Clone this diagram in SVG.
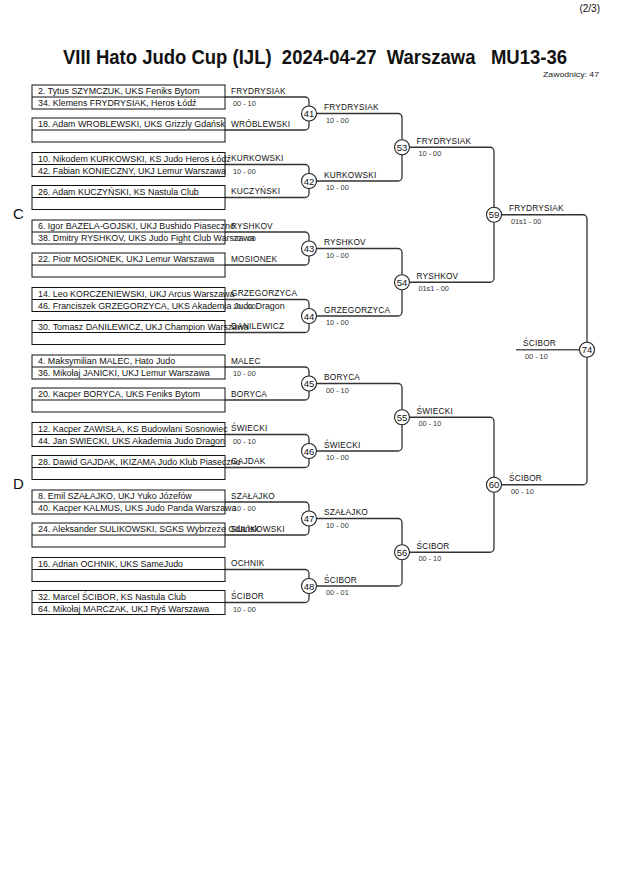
<svg xmlns="http://www.w3.org/2000/svg" width="630" height="891" viewBox="0 0 630 891">
<style>
  .bg{fill:#ffffff}
  .box{fill:none;stroke:#111;stroke-width:1}
  .div{stroke:#111;stroke-width:1}
  .ent{font-family:"Liberation Sans",Arial,sans-serif;font-size:8.9px;fill:#111}
  .lbl{font-family:"Liberation Sans",Arial,sans-serif;font-size:8.3px;fill:#111;letter-spacing:0.2px}
  .sc{font-family:"Liberation Sans",Arial,sans-serif;font-size:7.3px;fill:#333}
  .con{fill:none;stroke:#333;stroke-width:1.3}
  .fin{fill:none;stroke:#555;stroke-width:1.6}
  .cir{fill:#fff;stroke:#222;stroke-width:1.1}
  .num{font-family:"Liberation Sans",Arial,sans-serif;font-size:9.5px;fill:#111;text-anchor:middle}
  .grp{font-family:"Liberation Sans",Arial,sans-serif;font-size:15px;fill:#111}
</style>
<rect class="bg" x="0" y="0" width="630" height="891"/>
<text x="600" y="12" font-family="Liberation Sans, Arial, sans-serif" font-size="10" text-anchor="end" fill="#111">(2/3)</text>
<text x="63" y="64" font-family="Liberation Sans, Arial, sans-serif" font-size="19.5" font-weight="bold" fill="#111" textLength="504" lengthAdjust="spacingAndGlyphs" xml:space="preserve">VIII Hato Judo Cup (IJL)  2024-04-27  Warszawa   MU13-36</text>
<text x="543" y="77" font-family="Liberation Sans, Arial, sans-serif" font-size="8" fill="#222" textLength="56" lengthAdjust="spacingAndGlyphs">Zawodnicy: 47</text>
<text class="grp" x="13" y="219">C</text>
<text class="grp" x="13" y="489">D</text>

<g id="connectors">
  <path class="con" d="M225,97 H305 A4,4 0 0 1 309,101 V106 M225,130 H305 A4,4 0 0 0 309,126 V121"/>
  <path class="con" d="M225,164.5 H305 A4,4 0 0 1 309,168.5 V173.5 M225,197.5 H305 A4,4 0 0 0 309,193.5 V188.5"/>
  <path class="con" d="M225,232 H305 A4,4 0 0 1 309,236 V241 M225,265 H305 A4,4 0 0 0 309,261 V256"/>
  <path class="con" d="M225,299.5 H305 A4,4 0 0 1 309,303.5 V308.5 M225,332.5 H305 A4,4 0 0 0 309,328.5 V323.5"/>
  <path class="con" d="M225,367 H305 A4,4 0 0 1 309,371 V376 M225,400 H305 A4,4 0 0 0 309,396 V391"/>
  <path class="con" d="M225,434.5 H305 A4,4 0 0 1 309,438.5 V443.5 M225,467.5 H305 A4,4 0 0 0 309,463.5 V458.5"/>
  <path class="con" d="M225,502 H305 A4,4 0 0 1 309,506 V511 M225,535 H305 A4,4 0 0 0 309,531 V526"/>
  <path class="con" d="M225,569.5 H305 A4,4 0 0 1 309,573.5 V578.5 M225,602.5 H305 A4,4 0 0 0 309,598.5 V593.5"/>
  <path class="con" d="M317,113.5 H398 A4,4 0 0 1 402,117.5 V139.75 M317,181 H398 A4,4 0 0 0 402,177 V154.75"/>
  <path class="con" d="M317,248.5 H398 A4,4 0 0 1 402,252.5 V274.75 M317,316 H398 A4,4 0 0 0 402,312 V289.75"/>
  <path class="con" d="M317,383.5 H398 A4,4 0 0 1 402,387.5 V409.75 M317,451 H398 A4,4 0 0 0 402,447 V424.75"/>
  <path class="con" d="M317,518.5 H398 A4,4 0 0 1 402,522.5 V544.75 M317,586 H398 A4,4 0 0 0 402,582 V559.75"/>
  <path class="con" d="M410,147.25 H490 A4,4 0 0 1 494,151.25 V207.25 M410,282.25 H490 A4,4 0 0 0 494,278.25 V222.25"/>
  <path class="con" d="M410,417.25 H490 A4,4 0 0 1 494,421.25 V477.25 M410,552.25 H490 A4,4 0 0 0 494,548.25 V492.25"/>
  <path class="con" d="M502,214.75 H583 A4,4 0 0 1 587,218.75 V342.25 M502,484.75 H583 A4,4 0 0 0 587,480.75 V357.25"/>
  <path class="fin" d="M516,349.75 H579.5"/>
</g>

<g id="entries-41">
  <rect class="box" x="32" y="85" width="193" height="24"/><line class="div" x1="32" y1="97" x2="225" y2="97"/>
  <rect class="box" x="32" y="118" width="193" height="24"/><line class="div" x1="32" y1="130" x2="225" y2="130"/>
  <text class="ent" x="38" y="94">2. Tytus SZYMCZUK, UKS Feniks Bytom</text>
  <text class="ent" x="38" y="106">34. Klemens FRYDRYSIAK, Heros Łódź</text>
  <text class="ent" x="38" y="127">18. Adam WROBLEWSKI, UKS Grizzly Gdańsk</text>
  <text class="lbl" x="231" y="93.5">FRYDRYSIAK</text>
  <text class="sc" x="233" y="106">00 - 10</text>
  <text class="lbl" x="231" y="126.5">WRÓBLEWSKI</text>
</g>
<g id="entries-42">
  <rect class="box" x="32" y="152.5" width="193" height="24"/><line class="div" x1="32" y1="164.5" x2="225" y2="164.5"/>
  <rect class="box" x="32" y="185.5" width="193" height="24"/><line class="div" x1="32" y1="197.5" x2="225" y2="197.5"/>
  <text class="ent" x="38" y="161.5">10. Nikodem KURKOWSKI, KS Judo Heros Łódź</text>
  <text class="ent" x="38" y="173.5">42. Fabian KONIECZNY, UKJ Lemur Warszawa</text>
  <text class="ent" x="38" y="194.5">26. Adam KUCZYŃSKI, KS Nastula Club</text>
  <text class="lbl" x="231" y="161">KURKOWSKI</text>
  <text class="sc" x="233" y="173.5">10 - 00</text>
  <text class="lbl" x="231" y="194">KUCZYŃSKI</text>
</g>
<g id="entries-43">
  <rect class="box" x="32" y="220" width="193" height="24"/><line class="div" x1="32" y1="232" x2="225" y2="232"/>
  <rect class="box" x="32" y="253" width="193" height="24"/><line class="div" x1="32" y1="265" x2="225" y2="265"/>
  <text class="ent" x="38" y="229">6. Igor BAZELA-GOJSKI, UKJ Bushido Piaseczno</text>
  <text class="ent" x="38" y="241">38. Dmitry RYSHKOV, UKS Judo Fight Club Warszawa</text>
  <text class="ent" x="38" y="262">22. Piotr MOSIONEK, UKJ Lemur Warszawa</text>
  <text class="lbl" x="231" y="228.5">RYSHKOV</text>
  <text class="sc" x="233" y="241">10 - 00</text>
  <text class="lbl" x="231" y="261.5">MOSIONEK</text>
</g>
<g id="entries-44">
  <rect class="box" x="32" y="287.5" width="193" height="24"/><line class="div" x1="32" y1="299.5" x2="225" y2="299.5"/>
  <rect class="box" x="32" y="320.5" width="193" height="24"/><line class="div" x1="32" y1="332.5" x2="225" y2="332.5"/>
  <text class="ent" x="38" y="296.5">14. Leo KORCZENIEWSKI, UKJ Arcus Warszawa</text>
  <text class="ent" x="38" y="308.5">46. Franciszek GRZEGORZYCA, UKS Akademia Judo Dragon</text>
  <text class="ent" x="38" y="329.5">30. Tomasz DANILEWICZ, UKJ Champion Warszawa</text>
  <text class="lbl" x="231" y="296">GRZEGORZYCA</text>
  <text class="sc" x="233" y="308.5">10 - 00</text>
  <text class="lbl" x="231" y="329">DANILEWICZ</text>
</g>
<g id="entries-45">
  <rect class="box" x="32" y="355" width="193" height="24"/><line class="div" x1="32" y1="367" x2="225" y2="367"/>
  <rect class="box" x="32" y="388" width="193" height="24"/><line class="div" x1="32" y1="400" x2="225" y2="400"/>
  <text class="ent" x="38" y="364">4. Maksymilian MALEC, Hato Judo</text>
  <text class="ent" x="38" y="376">36. Mikołaj JANICKI, UKJ Lemur Warszawa</text>
  <text class="ent" x="38" y="397">20. Kacper BORYCA, UKS Feniks Bytom</text>
  <text class="lbl" x="231" y="363.5">MALEC</text>
  <text class="sc" x="233" y="376">10 - 00</text>
  <text class="lbl" x="231" y="396.5">BORYCA</text>
</g>
<g id="entries-46">
  <rect class="box" x="32" y="422.5" width="193" height="24"/><line class="div" x1="32" y1="434.5" x2="225" y2="434.5"/>
  <rect class="box" x="32" y="455.5" width="193" height="24"/><line class="div" x1="32" y1="467.5" x2="225" y2="467.5"/>
  <text class="ent" x="38" y="431.5">12. Kacper ZAWISŁA, KS Budowlani Sosnowiec</text>
  <text class="ent" x="38" y="443.5">44. Jan SWIECKI, UKS Akademia Judo Dragon</text>
  <text class="ent" x="38" y="464.5">28. Dawid GAJDAK, IKIZAMA Judo Klub Piaseczno</text>
  <text class="lbl" x="231" y="431">ŚWIECKI</text>
  <text class="sc" x="233" y="443.5">00 - 10</text>
  <text class="lbl" x="231" y="464">GAJDAK</text>
</g>
<g id="entries-47">
  <rect class="box" x="32" y="490" width="193" height="24"/><line class="div" x1="32" y1="502" x2="225" y2="502"/>
  <rect class="box" x="32" y="523" width="193" height="24"/><line class="div" x1="32" y1="535" x2="225" y2="535"/>
  <text class="ent" x="38" y="499">8. Emil SZAŁAJKO, UKJ Yuko Józefów</text>
  <text class="ent" x="38" y="511">40. Kacper KALMUS, UKS Judo Panda Warszawa</text>
  <text class="ent" x="38" y="532">24. Aleksander SULIKOWSKI, SGKS Wybrzeże Gdańsk</text>
  <text class="lbl" x="231" y="498.5">SZAŁAJKO</text>
  <text class="sc" x="233" y="511">10 - 00</text>
  <text class="lbl" x="231" y="531.5">SULIKOWSKI</text>
</g>
<g id="entries-48">
  <rect class="box" x="32" y="557.5" width="193" height="24"/><line class="div" x1="32" y1="569.5" x2="225" y2="569.5"/>
  <rect class="box" x="32" y="590.5" width="193" height="24"/><line class="div" x1="32" y1="602.5" x2="225" y2="602.5"/>
  <text class="ent" x="38" y="566.5">16. Adrian OCHNIK, UKS SameJudo</text>
  <text class="ent" x="38" y="599.5">32. Marcel ŚCIBOR, KS Nastula Club</text>
  <text class="ent" x="38" y="611.5">64. Mikołaj MARCZAK, UKJ Ryś Warszawa</text>
  <text class="lbl" x="231" y="566">OCHNIK</text>
  <text class="lbl" x="231" y="599">ŚCIBOR</text>
  <text class="sc" x="233" y="611.5">10 - 00</text>
</g>

<g id="m41"><circle class="cir" cx="309" cy="113.5" r="7.5"/><text class="num" x="309" y="117">41</text><text class="lbl" x="324" y="110">FRYDRYSIAK</text><text class="sc" x="326" y="122.5">10 - 00</text></g>
<g id="m42"><circle class="cir" cx="309" cy="181" r="7.5"/><text class="num" x="309" y="184.5">42</text><text class="lbl" x="324" y="177.5">KURKOWSKI</text><text class="sc" x="326" y="190">10 - 00</text></g>
<g id="m43"><circle class="cir" cx="309" cy="248.5" r="7.5"/><text class="num" x="309" y="252">43</text><text class="lbl" x="324" y="245">RYSHKOV</text><text class="sc" x="326" y="257.5">10 - 00</text></g>
<g id="m44"><circle class="cir" cx="309" cy="316" r="7.5"/><text class="num" x="309" y="319.5">44</text><text class="lbl" x="324" y="312.5">GRZEGORZYCA</text><text class="sc" x="326" y="325">10 - 00</text></g>
<g id="m45"><circle class="cir" cx="309" cy="383.5" r="7.5"/><text class="num" x="309" y="387">45</text><text class="lbl" x="324" y="380">BORYCA</text><text class="sc" x="326" y="392.5">00 - 10</text></g>
<g id="m46"><circle class="cir" cx="309" cy="451" r="7.5"/><text class="num" x="309" y="454.5">46</text><text class="lbl" x="324" y="447.5">ŚWIECKI</text><text class="sc" x="326" y="460">10 - 00</text></g>
<g id="m47"><circle class="cir" cx="309" cy="518.5" r="7.5"/><text class="num" x="309" y="522">47</text><text class="lbl" x="324" y="515">SZAŁAJKO</text><text class="sc" x="326" y="527.5">10 - 00</text></g>
<g id="m48"><circle class="cir" cx="309" cy="586" r="7.5"/><text class="num" x="309" y="589.5">48</text><text class="lbl" x="324" y="582.5">ŚCIBOR</text><text class="sc" x="326" y="595">00 - 01</text></g>

<g id="m53"><circle class="cir" cx="402" cy="147.25" r="7.5"/><text class="num" x="402" y="150.75">53</text><text class="lbl" x="416.5" y="143.75">FRYDRYSIAK</text><text class="sc" x="418.5" y="156.25">10 - 00</text></g>
<g id="m54"><circle class="cir" cx="402" cy="282.25" r="7.5"/><text class="num" x="402" y="285.75">54</text><text class="lbl" x="416.5" y="278.75">RYSHKOV</text><text class="sc" x="418.5" y="291.25">01s1 - 00</text></g>
<g id="m55"><circle class="cir" cx="402" cy="417.25" r="7.5"/><text class="num" x="402" y="420.75">55</text><text class="lbl" x="416.5" y="413.75">ŚWIECKI</text><text class="sc" x="418.5" y="426.25">00 - 10</text></g>
<g id="m56"><circle class="cir" cx="402" cy="552.25" r="7.5"/><text class="num" x="402" y="555.75">56</text><text class="lbl" x="416.5" y="548.75">ŚCIBOR</text><text class="sc" x="418.5" y="561.25">00 - 10</text></g>

<g id="m59"><circle class="cir" cx="494" cy="214.75" r="7.5"/><text class="num" x="494" y="218.25">59</text><text class="lbl" x="509" y="211.25">FRYDRYSIAK</text><text class="sc" x="511" y="223.75">01s1 - 00</text></g>
<g id="m60"><circle class="cir" cx="494" cy="484.75" r="7.5"/><text class="num" x="494" y="488.25">60</text><text class="lbl" x="509" y="481.25">ŚCIBOR</text><text class="sc" x="511" y="493.75">00 - 10</text></g>

<g id="m74"><circle class="cir" cx="587" cy="349.75" r="7.5"/><text class="num" x="587" y="353.25">74</text><text class="lbl" x="523" y="346.25">ŚCIBOR</text><text class="sc" x="525" y="358.75">00 - 10</text></g>
</svg>
